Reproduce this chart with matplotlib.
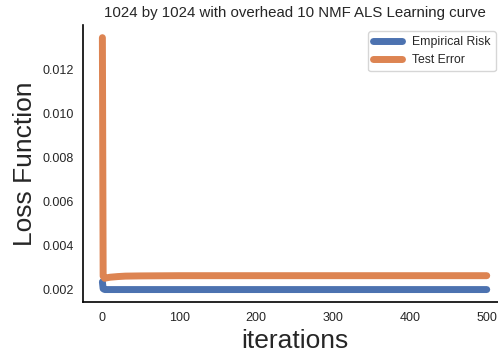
import matplotlib
matplotlib.use("Agg")
import matplotlib.pyplot as plt
import seaborn as sns

sns.set_style("white")
plt.rcParams['font.family'] = ['Liberation Sans', 'DejaVu Sans']

# iteration checkpoints and losses
iterations = [0, 1, 3, 5, 10, 20, 30, 50, 100, 200, 300, 400, 500]
empirical_risk = [0.00236, 0.00205, 0.00201, 0.00201, 0.00201, 0.00201, 0.00201,
                  0.00201, 0.00201, 0.00201, 0.00201, 0.00201, 0.00201]
test_error = [0.01345, 0.00262, 0.00252, 0.00254, 0.00257, 0.00260, 0.00262,
              0.00263, 0.00264, 0.00264, 0.00264, 0.00264, 0.00264]

fig = plt.figure(figsize=(4.98, 3.58), dpi=100)
ax = fig.add_axes([0.167, 0.156, 0.849, 0.774])

ax.plot(iterations, empirical_risk, color='#4c72b0', lw=5, label='Empirical Risk',
        solid_capstyle='round')
ax.plot(iterations, test_error, color='#dd8452', lw=5, label='Test Error',
        solid_capstyle='round')

ax.set_xlim(-25, 525)
ax.set_yticks([0.002, 0.004, 0.006, 0.008, 0.010, 0.012])
ax.set_xticks([0, 100, 200, 300, 400, 500])
ax.tick_params(labelsize=9)

ax.set_title('1024 by 1024 with overhead 10 NMF ALS Learning curve', fontsize=10.8)
ax.set_xlabel('iterations', fontsize=19)
ax.set_ylabel('Loss Function', fontsize=19)

for side in ['top', 'right']:
    ax.spines[side].set_visible(False)
for side in ['left', 'bottom']:
    ax.spines[side].set_color('black')
    ax.spines[side].set_linewidth(1.2)

ax.legend(loc='upper right', bbox_to_anchor=(0.99, 1.0), fontsize=8.8,
          frameon=True, handlelength=2.4, edgecolor='0.8')

fig.savefig('out.png', dpi=100)
